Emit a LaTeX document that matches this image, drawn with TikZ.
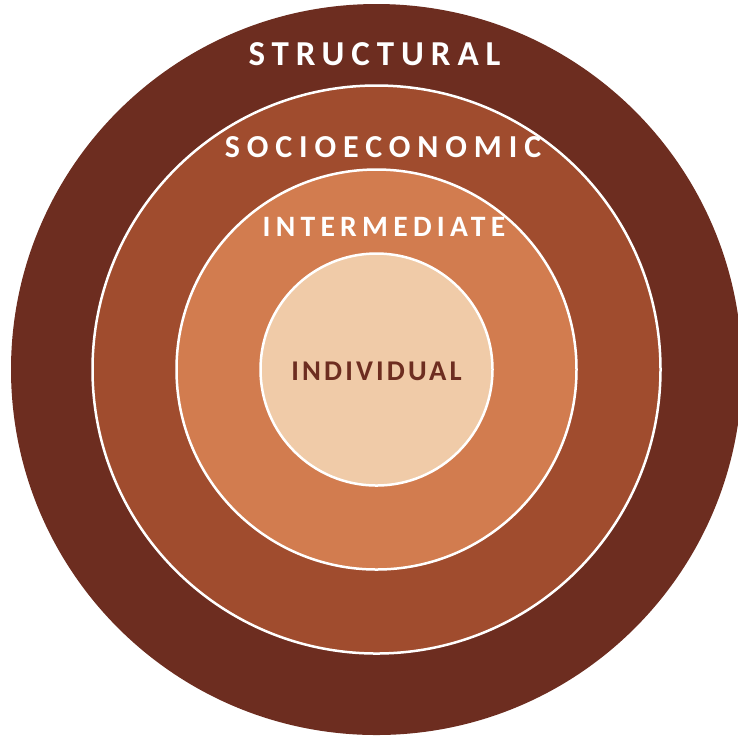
\documentclass[tikz,border=0pt]{standalone}
\usepackage{fontspec}
\newfontfamily\ringfont{Carlito}
\definecolor{ringA}{HTML}{6D2D20}
\definecolor{ringB}{HTML}{A04C2E}
\definecolor{ringC}{HTML}{D27C4F}
\definecolor{ringD}{HTML}{F0CBA8}

\begin{document}
\begin{tikzpicture}[x=0.5pt, y=-0.5pt,
        ring/.style = {circle, inner sep=0pt, outer sep=0pt, draw=white, line width=1.25pt},
        ringlabel/.style = {inner sep=0pt, text=white}]
                    \useasboundingbox (0,0) rectangle (738,736);
                    \clip (0,0) rectangle (738,736);

                    \coordinate (O) at (376.5,369.5);

                    % the four rings, outside in
                    \node[ring, draw=none, fill=ringA, minimum size=365.5pt] (structural) at (O) {};
                    \node[ring, fill=ringB, minimum size=284pt] (socio) at (O) {};
                    \node[ring, fill=ringC, minimum size=200pt] (inter) at (O) {};
                    \node[ring, fill=ringD, minimum size=116pt] (indiv) at (O) {};

                    \node[ringlabel, font=\ringfont\bfseries\fontsize{17.5}{20}\selectfont\addfontfeatures{LetterSpace=19.7}] (structuraltext) at (374.5,54) {STRUCTURAL};
                    \node[ringlabel, font=\ringfont\bfseries\fontsize{16}{19}\selectfont\addfontfeatures{LetterSpace=21.6}] (sociotext) at (383,147) {SOCIOECONOMIC};
                    \node[ringlabel, font=\ringfont\bfseries\fontsize{14.8}{17}\selectfont\addfontfeatures{LetterSpace=17.8}] (intertext) at (384,227) {INTERMEDIATE};
                    \node[ringlabel, text=ringA, font=\ringfont\bfseries\fontsize{14.3}{17}\selectfont\addfontfeatures{LetterSpace=11}] (indivtext) at (376.5,371.5) {INDIVIDUAL};

                \end{tikzpicture}
\end{document}
